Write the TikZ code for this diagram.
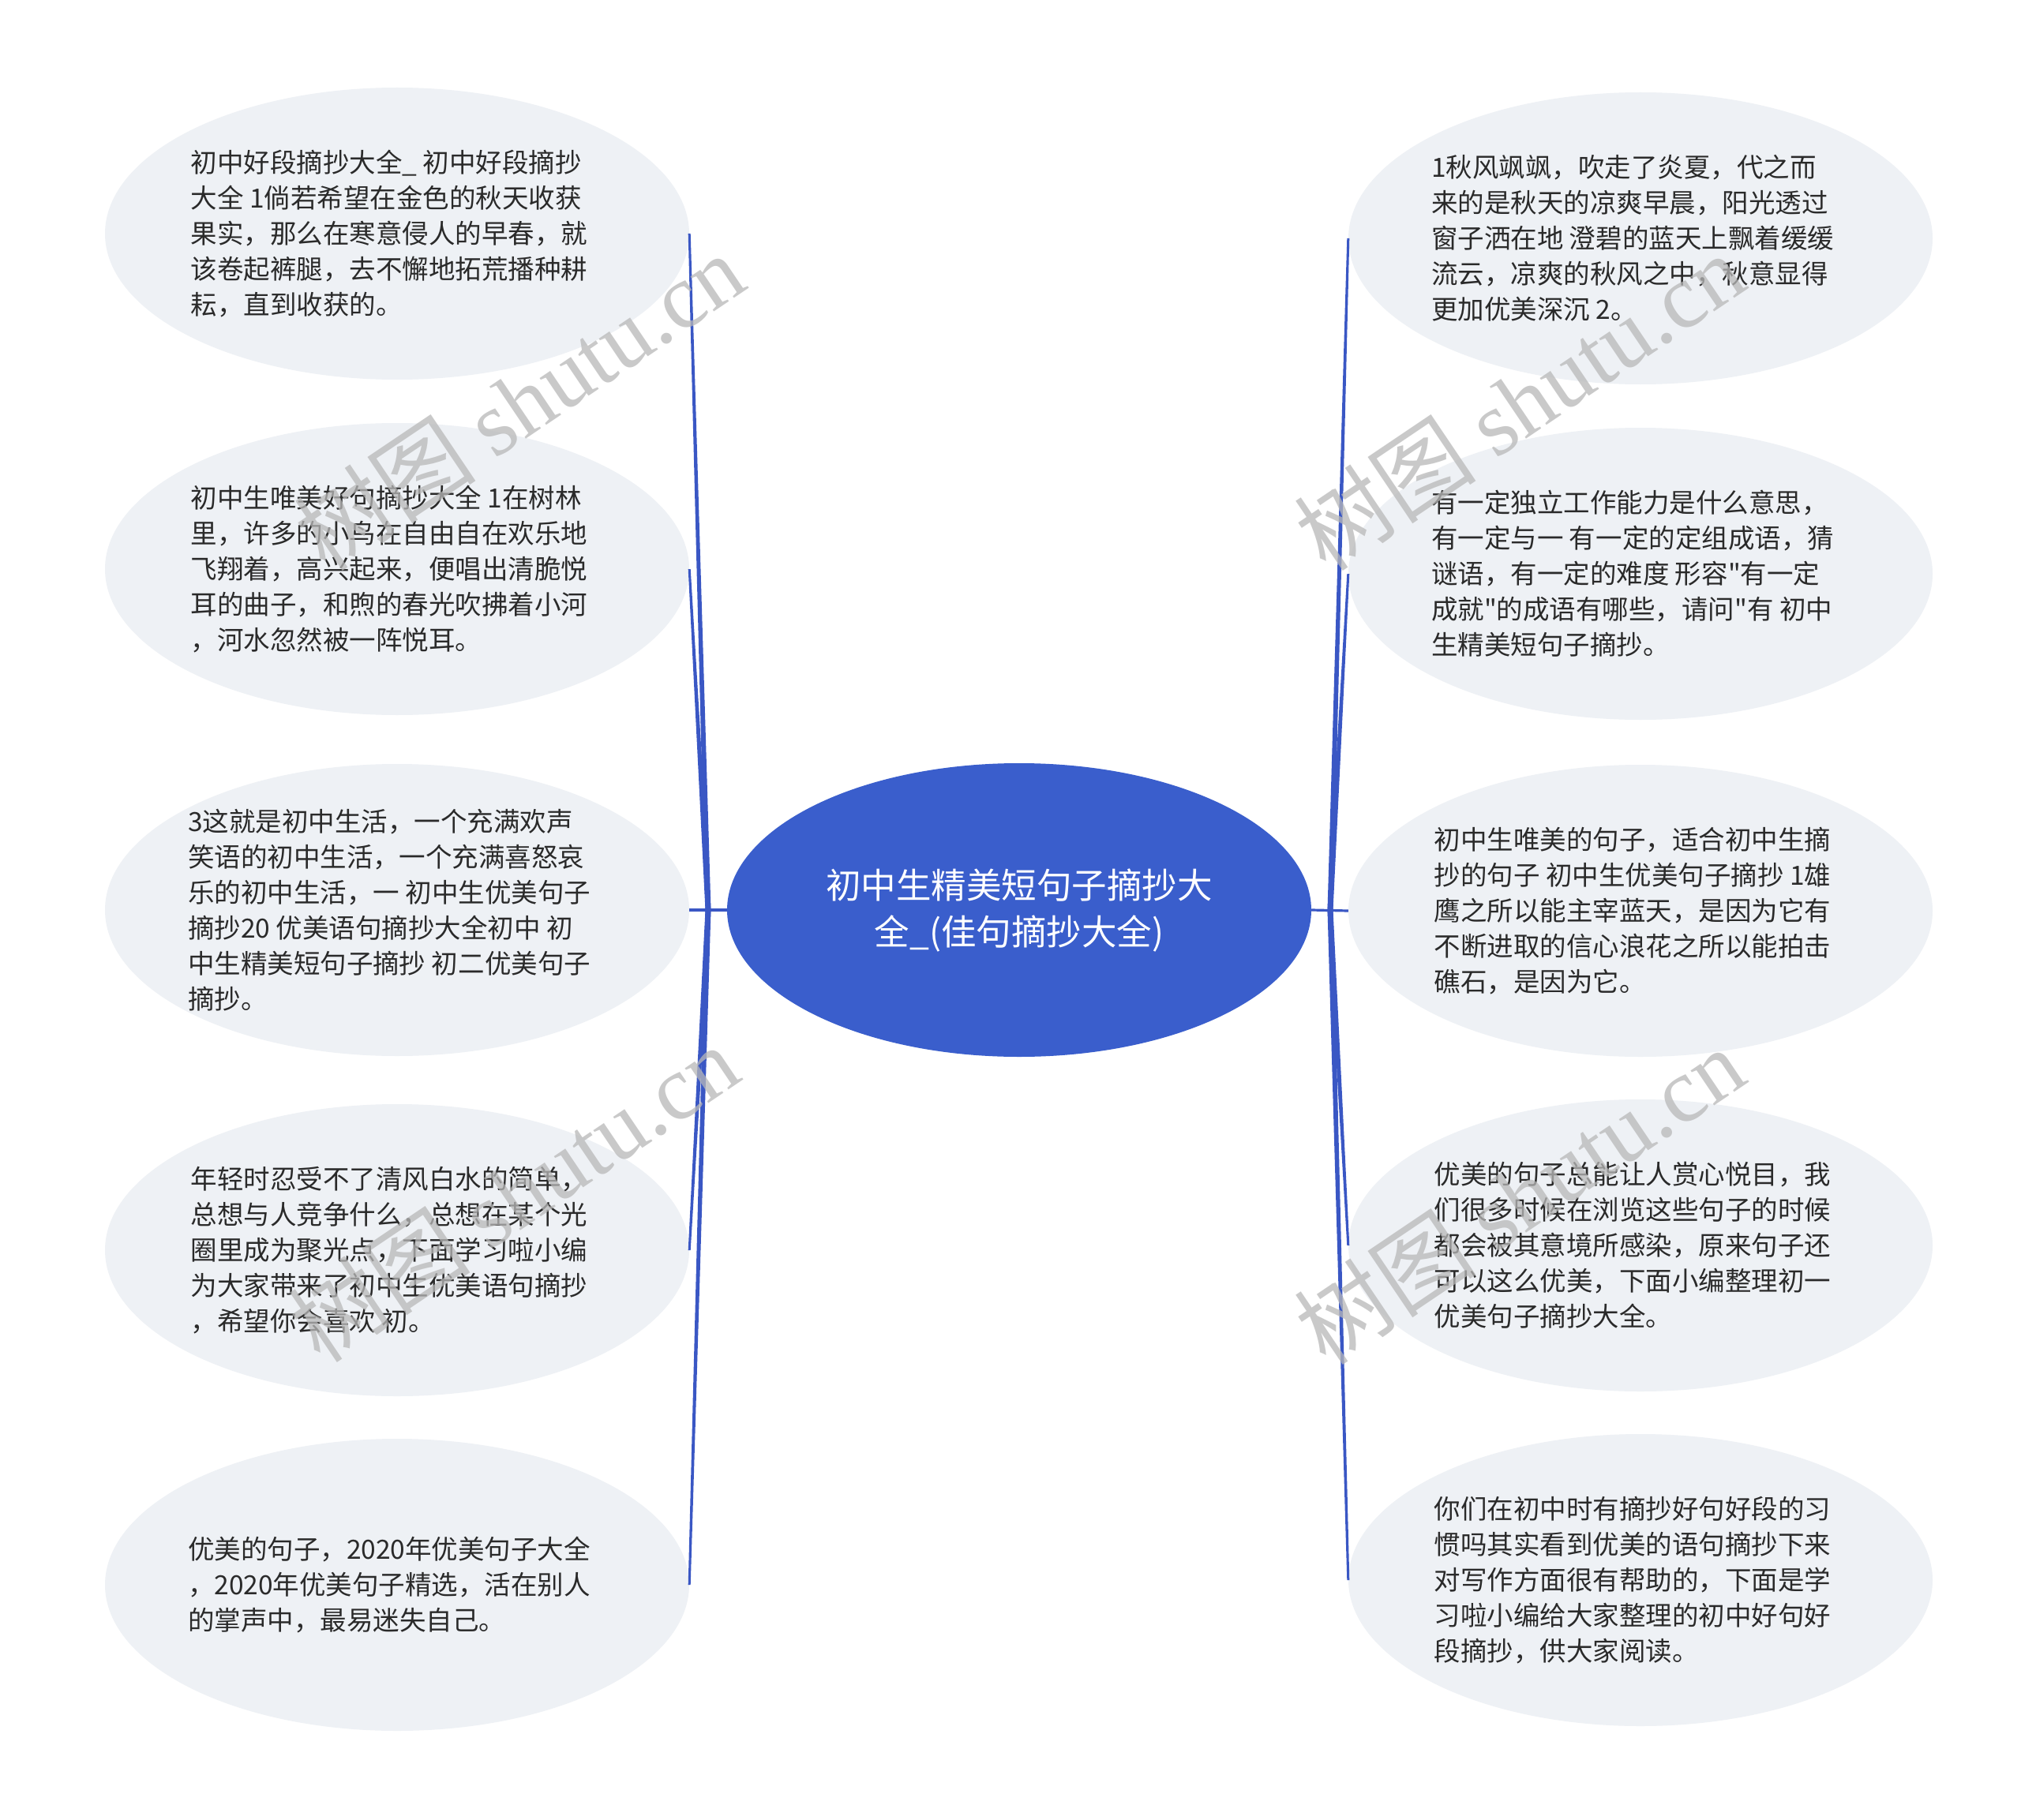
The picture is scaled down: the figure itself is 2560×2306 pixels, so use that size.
\documentclass[tikz,border=0pt]{standalone}
\usepackage{fontspec}
\defaultfontfeatures{}
\setmainfont{Noto Sans CJK SC}[Ligatures=TeXOff]
\newfontfamily\wmcjk{Noto Sans CJK SC}
\newfontfamily\wmlat{Liberation Serif}
\usetikzlibrary{shapes.geometric,calc}
\definecolor{leaffill}{HTML}{EEF1F5}
\definecolor{rootblue}{HTML}{3A5ECC}
\definecolor{linkblue}{HTML}{3A57C4}
\definecolor{txtcol}{HTML}{2A2A2A}
\definecolor{wmcol}{HTML}{B8B8B8}
\newcommand\dq{\char"22\relax}
\begin{document}
\begin{tikzpicture}[x=1pt,y=-1pt,
 leaf/.style={ellipse,fill=leaffill,minimum width=740pt,minimum height=370pt,inner sep=0pt},
 leaftext/.style={align=left,text=txtcol,font=\fontsize{33.5}{45}\selectfont,inner sep=0pt,xshift=-10pt},
 root/.style={ellipse,fill=rootblue,minimum width=740pt,minimum height=372pt,inner sep=0pt},
 roottext/.style={align=center,text=white,font=\fontsize{44.5}{59}\selectfont,inner sep=0pt},
 link/.style={fill=linkblue},
 stub/.style={draw=linkblue,line width=3.2pt},
 wm/.style={text=wmcol,opacity=0.75,rotate=34,inner sep=0pt,font=\fontsize{116}{120}\selectfont}
]
\useasboundingbox (0,0) rectangle (2560,2306);
\fill[white] (0,0) rectangle (2560,2306);

% root
\node[root] (root) at (1291,1153) {};
\node[roottext] (roott) at (root.center) {初中生精美短句子摘抄大\\全\_(佳句摘抄大全)};

% left leaves
\node[leaf] (l1) at (503,296) {};
\node[leaf] (l2) at (503,721) {};
\node[leaf] (l3) at (503,1153) {};
\node[leaf] (l4) at (503,1584) {};
\node[leaf] (l5) at (503,2008) {};
% right leaves
\node[leaf] (r1) at (2078,302) {};
\node[leaf] (r2) at (2078,727) {};
\node[leaf] (r3) at (2078,1154) {};
\node[leaf] (r4) at (2078,1578) {};
\node[leaf] (r5) at (2078,2002) {};

% junctions
\coordinate (jl) at (897,1153);
\coordinate (jr) at (1685,1153);

% connectors
\draw[stub] (root.west) -- (l3.east);
\draw[stub] (root.east) -- (r3.west);
\foreach \n in {l1,l2,l4,l5}{
  \fill[link] ($(jl)+(-3.5,0)$) -- ($(\n.east)+(-1.5,0)$) -- ($(\n.east)+(1.5,0)$) -- ($(jl)+(3.5,0)$) -- cycle;
}
\foreach \n in {r1,r2,r4,r5}{
  \fill[link] ($(jr)+(-3.5,0)$) -- ($(\n.west)+(-1.5,0)$) -- ($(\n.west)+(1.5,0)$) -- ($(jr)+(3.5,0)$) -- cycle;
}

% texts
\node[leaftext] (t1) at (l1.center) {初中好段摘抄大全\_ 初中好段摘抄\\大全 1倘若希望在金色的秋天收获\\果实，那么在寒意侵人的早春，就\\该卷起裤腿，去不懈地拓荒播种耕\\耘，直到收获的。};
\node[leaftext] (t2) at (l2.center) {初中生唯美好句摘抄大全 1在树林\\里，许多的小鸟在自由自在欢乐地\\飞翔着，高兴起来，便唱出清脆悦\\耳的曲子，和煦的春光吹拂着小河\\，河水忽然被一阵悦耳。};
\node[leaftext] (t3) at (l3.center) {3这就是初中生活，一个充满欢声\\笑语的初中生活，一个充满喜怒哀\\乐的初中生活，一 初中生优美句子\\摘抄20 优美语句摘抄大全初中 初\\中生精美短句子摘抄 初二优美句子\\摘抄。};
\node[leaftext] (t4) at (l4.center) {年轻时忍受不了清风白水的简单，\\总想与人竞争什么，总想在某个光\\圈里成为聚光点，下面学习啦小编\\为大家带来了初中生优美语句摘抄\\，希望你会喜欢 初。};
\node[leaftext] (t5) at (l5.center) {优美的句子，2020年优美句子大全\\，2020年优美句子精选，活在别人\\的掌声中，最易迷失自己。};

\node[leaftext] (u1) at (r1.center) {1秋风飒飒，吹走了炎夏，代之而\\来的是秋天的凉爽早晨，阳光透过\\窗子洒在地 澄碧的蓝天上飘着缓缓\\流云，凉爽的秋风之中，秋意显得\\更加优美深沉 2。};
\node[leaftext] (u2) at (r2.center) {有一定独立工作能力是什么意思，\\有一定与一 有一定的定组成语，猜\\谜语，有一定的难度 形容\dq 有一定\\成就\dq 的成语有哪些，请问\dq 有 初中\\生精美短句子摘抄。};
\node[leaftext] (u3) at (r3.center) {初中生唯美的句子，适合初中生摘\\抄的句子 初中生优美句子摘抄 1雄\\鹰之所以能主宰蓝天，是因为它有\\不断进取的信心浪花之所以能拍击\\礁石，是因为它。};
\node[leaftext] (u4) at (r4.center) {优美的句子总能让人赏心悦目，我\\们很多时候在浏览这些句子的时候\\都会被其意境所感染，原来句子还\\可以这么优美，下面小编整理初一\\优美句子摘抄大全。};
\node[leaftext] (u5) at (r5.center) {你们在初中时有摘抄好句好段的习\\惯吗其实看到优美的语句摘抄下来\\对写作方面很有帮助的，下面是学\\习啦小编给大家整理的初中好句好\\段摘抄，供大家阅读。};

% watermarks
\node[wm] (w1) at (657,509) {{\wmcjk 树图} {\wmlat shutu.cn}};
\node[wm] (w2) at (650,1512) {{\wmcjk 树图} {\wmlat shutu.cn}};
\node[wm] (w3) at (1924,509) {{\wmcjk 树图} {\wmlat shutu.cn}};
\node[wm] (w4) at (1924,1515) {{\wmcjk 树图} {\wmlat shutu.cn}};
\end{tikzpicture}
\end{document}
